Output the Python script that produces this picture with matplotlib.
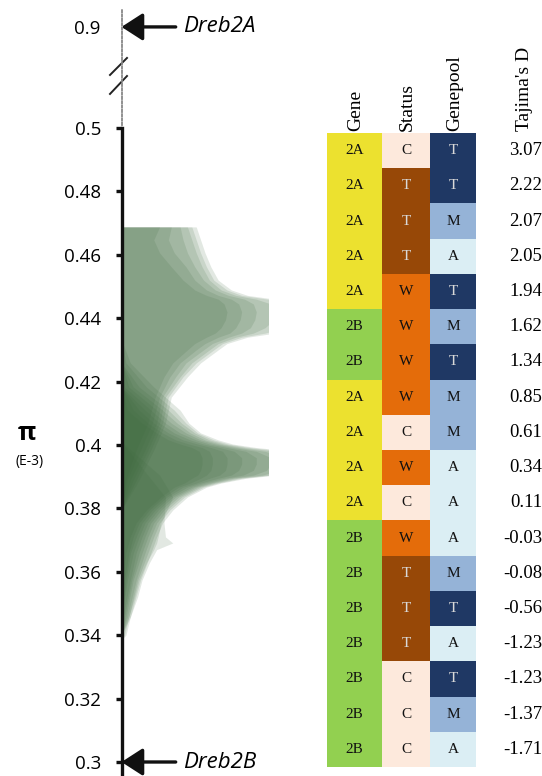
import matplotlib
matplotlib.use("Agg")
import matplotlib.pyplot as plt

plt.rcParams["font.family"] = ["Open Sans", "DejaVu Sans"]

# ── data ──────────────────────────────────────────────────────────
GENE = ["2A", "2A", "2A", "2A", "2A", "2B", "2B", "2A", "2A",
        "2A", "2A", "2B", "2B", "2B", "2B", "2B", "2B", "2B"]
STATUS = ["C", "T", "T", "T", "W", "W", "W", "W", "C",
          "W", "C", "W", "T", "T", "T", "C", "C", "C"]
GENEPOOL = ["T", "T", "M", "A", "T", "M", "T", "M", "M",
            "A", "A", "A", "M", "T", "A", "T", "M", "A"]
TAJIMA_D = [3.07, 2.22, 2.07, 2.05, 1.94, 1.62, 1.34, 0.85, 0.61,
            0.34, 0.11, -0.03, -0.08, -0.56, -1.23, -1.23, -1.37, -1.71]

PI_TICKS = [0.3, 0.32, 0.34, 0.36, 0.38, 0.4, 0.42, 0.44, 0.46, 0.48, 0.5]
PI_DREB2A = 0.9
PI_DREB2B = 0.3

# density profiles (pi value -> density)
UP_PI = [0.4688, 0.4647, 0.4606, 0.4562, 0.4520, 0.4489, 0.4472, 0.4460, 0.4445, 0.4420,
         0.4395, 0.4370, 0.4353, 0.4340, 0.4320, 0.4300, 0.4259, 0.4215, 0.4151, 0.4069,
         0.3984, 0.3890, 0.3795]
UP_DENS = [
    [51, 54, 57, 61, 66, 75, 86, 105, 140, 150, 145, 130, 105, 86, 72, 66, 54, 45, 34, 30, 22, 12, 0],
    [48, 51, 54, 58, 63, 72, 82, 100, 118, 125, 122, 112, 98, 82, 69, 63, 51, 42, 32, 28, 20, 10, 0],
    [45, 48, 51, 55, 60, 68, 78, 92, 102, 105, 104, 98, 90, 78, 66, 60, 48, 40, 30, 26, 18, 8, 0],
    [40, 42, 45, 50, 56, 64, 73, 84, 90, 92, 91, 88, 82, 73, 62, 56, 44, 37, 28, 24, 16, 6, 0],
    [34, 32, 36, 44, 50, 58, 66, 75, 80, 82, 81, 78, 74, 66, 57, 51, 40, 33, 26, 21, 13, 4, 0],
    [26, 22, 26, 34, 42, 50, 58, 66, 70, 72, 71, 68, 64, 58, 50, 45, 35, 29, 23, 18, 10, 3, 0],
]
LO_PI = [0.4331, 0.4259, 0.4183, 0.4110, 0.4069, 0.4038, 0.4016, 0.4003, 0.3992, 0.3980,
         0.3960, 0.3940, 0.3920, 0.3905, 0.3895, 0.3880, 0.3867, 0.3836, 0.3795, 0.3754,
         0.3710, 0.3659, 0.3574, 0.3457, 0.3400]
LO_DENS = [
    [0, 6, 22, 40, 46, 54, 66, 76, 92, 118, 150, 150, 145, 105, 85, 68, 58, 45, 35, 28, 24, 20, 13, 6, 0],
    [0, 3, 17, 36, 44, 52, 63, 73, 88, 112, 140, 140, 135, 102, 82, 66, 56, 43, 33, 26, 22, 18, 11, 5, 0],
    [0, 0, 12, 32, 41, 50, 60, 70, 84, 105, 125, 125, 120, 100, 79, 64, 54, 41, 31, 24, 20, 16, 10, 4, 0],
    [0, 0, 8, 28, 38, 47, 57, 67, 80, 98, 112, 112, 108, 96, 76, 62, 52, 39, 29, 22, 18, 14, 8, 3, 0],
    [0, 0, 5, 24, 34, 44, 54, 64, 76, 92, 102, 102, 99, 90, 73, 60, 50, 37, 27, 20, 16, 12, 7, 2, 0],
    [0, 0, 2, 20, 30, 40, 51, 60, 72, 85, 92, 92, 90, 83, 70, 57, 48, 35, 25, 18, 14, 10, 6, 1, 0],
    [0, 0, 0, 16, 26, 36, 47, 56, 67, 77, 82, 82, 80, 75, 66, 54, 45, 33, 23, 16, 12, 8, 4, 0, 0],
    [0, 0, 0, 12, 22, 32, 42, 52, 61, 69, 72, 72, 71, 67, 60, 51, 42, 31, 21, 14, 10, 6, 3, 0, 0],
    [0, 0, 0, 8, 18, 28, 37, 46, 55, 60, 62, 62, 61, 58, 54, 47, 39, 29, 19, 12, 8, 5, 2, 0, 0],
    [0, 0, 0, 4, 14, 24, 32, 40, 48, 53, 55, 55, 54, 52, 48, 43, 36, 27, 17, 10, 6, 3, 1, 0, 0],
]
TAIL_PI = [0.4010, 0.3905, 0.3836, 0.3754, 0.3710, 0.3691, 0.3670, 0.3628, 0.3574, 0.3521,
           0.3457, 0.3400, 0.3385]
TAIL_DENS = [
    [0, 18, 30, 29, 30, 35, 24, 19, 14, 11, 6, 3, 0],
    [0, 26, 35, 27, 25, 24, 22, 17, 12, 9, 5, 2, 0],
]

GENE_COLORS = {"2A": "#ECE12F", "2B": "#92D050"}
STATUS_COLORS = {"C": "#FDE9DC", "T": "#974807", "W": "#E46C0A"}
POOL_COLORS = {"T": "#1F3864", "M": "#95B3D7", "A": "#DBEEF4"}
DARK_CELLS = {"#974807", "#1F3864"}

GREEN = "#3F6A3F"
LAYER_ALPHA = 0.15

W, H = 542, 776
fig = plt.figure(figsize=(W / 100, H / 100), dpi=100)


def px_axes(left, top, right, bottom):
    return fig.add_axes([left / W, 1 - bottom / H, (right - left) / W, (bottom - top) / H])


# ── density panel ─────────────────────────────────────────────────
ax = px_axes(121.5, 128, 268, 776)
ax.set_xlim(0, 100)
ax.set_ylim(0.3 - 14 * 0.02 / 63.4, 0.5)

for pis, layers in [(UP_PI, UP_DENS), (LO_PI, LO_DENS), (TAIL_PI, TAIL_DENS)]:
    for dens in layers:
        ax.fill_betweenx(pis, 0, dens, color=GREEN, alpha=LAYER_ALPHA, linewidth=0)

for side in ["top", "right", "bottom"]:
    ax.spines[side].set_visible(False)
ax.spines["left"].set_linewidth(2.4)
ax.spines["left"].set_color("#111111")
ax.set_xticks([])
ax.set_yticks(PI_TICKS)
ax.set_yticklabels([f"{v:g}" for v in PI_TICKS])
ax.tick_params(axis="y", length=4.5, width=2.4, pad=10, labelsize=13.5, color="#111111")

ax.annotate("", xy=(0, PI_DREB2B), xytext=(37, PI_DREB2B),
            arrowprops=dict(arrowstyle="-|>,head_length=0.65,head_width=0.42",
                            mutation_scale=20, lw=2.4, color="#111111",
                            shrinkA=0, shrinkB=0),
            annotation_clip=False)
ax.text(42, PI_DREB2B, "Dreb2B", fontsize=16, style="italic", ha="left", va="center")

# ── top panel (Dreb2A, broken axis) ───────────────────────────────
ax_top = px_axes(121.5, 10, 268, 125)
ax_top.set_xlim(0, 100)
ax_top.set_ylim(0.5, 0.969)
for side in ["top", "right", "bottom"]:
    ax_top.spines[side].set_visible(False)
ax_top.spines["left"].set_linestyle((0, (1.2, 1.2)))
ax_top.spines["left"].set_color("#888888")
ax_top.spines["left"].set_linewidth(1.3)
ax_top.set_xticks([])
ax_top.set_yticks([PI_DREB2A])
ax_top.set_yticklabels([f"{PI_DREB2A:g}"])
ax_top.tick_params(axis="y", length=0, pad=15, labelsize=13.5)

for y0, y1 in [(0.435, 0.583), (0.27, 0.426)]:
    ax_top.plot([-0.0785, 0.0375], [y0, y1], transform=ax_top.transAxes,
                color="#222222", lw=1.4, clip_on=False)

ax_top.annotate("", xy=(0, PI_DREB2A), xytext=(37, PI_DREB2A),
                arrowprops=dict(arrowstyle="-|>,head_length=0.65,head_width=0.42",
                                mutation_scale=20, lw=2.4, color="#111111",
                                shrinkA=0, shrinkB=0),
                annotation_clip=False)
ax_top.text(42, PI_DREB2A, "Dreb2A", fontsize=16, style="italic", ha="left", va="center")

fig.text(27 / W, 1 - 434 / H, "π", fontsize=18, fontweight="bold", ha="center", va="center")
fig.text(30 / W, 1 - 462 / H, "(E-3)", fontsize=10, ha="center", va="center")

# ── annotation table ──────────────────────────────────────────────
tab = px_axes(327, 133, 476, 767)
col_edges = [0, 55, 103, 149]
tab.set_xlim(0, 149)
tab.set_ylim(len(GENE), 0)
tab.axis("off")

serif = ["Liberation Serif", "DejaVu Serif"]
rows = range(len(GENE))
columns = [("Gene", GENE, GENE_COLORS), ("Status", STATUS, STATUS_COLORS),
           ("Genepool", GENEPOOL, POOL_COLORS)]
for c, (name, vals, cmap) in enumerate(columns):
    left, right = col_edges[c], col_edges[c + 1]
    colors = [cmap[v] for v in vals]
    tab.bar([left] * len(vals), [1] * len(vals), width=right - left, bottom=list(rows),
            align="edge", color=colors, linewidth=0)
    mid = (left + right) / 2
    for i, (v, col) in enumerate(zip(vals, colors)):
        tab.text(mid, i + 0.5, v, ha="center", va="center", fontsize=11, family=serif,
                 color="#D9D9D9" if col in DARK_CELLS else "#111111")
    tab.text(mid + 1.5, -0.06, name, rotation=90, ha="center", va="bottom",
             fontsize=14, family=serif)

for i, d in enumerate(TAJIMA_D):
    tab.text(215, i + 0.5, f"{d:.2f}", ha="right", va="center", fontsize=13.5,
             family=serif, clip_on=False)
tab.text(197, -0.06, "Tajima's D", rotation=90, ha="center", va="bottom",
         fontsize=14, family=serif)

fig.savefig("out.png", dpi=100)
